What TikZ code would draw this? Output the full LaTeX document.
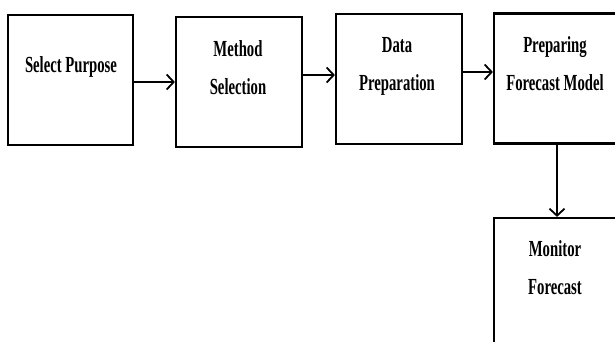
\documentclass[tikz,border=0pt]{standalone}
\usepackage{fontspec}
\setmainfont[FakeStretch=0.64]{Liberation Serif}
\usetikzlibrary{arrows.meta}
\begin{document}
\begin{tikzpicture}[x=1pt,y=-1pt,
  stagebox/.style={draw=black,line width=2.2pt,minimum width=#1,minimum height=130pt,inner sep=0pt},
  stagebox/.default=125pt,
  caption/.style={align=center,inner sep=0pt,font=\fontsize{23}{38}\selectfont\bfseries},
  flow/.style={line width=2.4pt,-{Straight Barb[length=7pt,width=15pt,line width=1.8pt]}}]
\useasboundingbox (0,0) rectangle (615,342);
\clip (0,0) rectangle (615,342);
% process boxes
\node[stagebox=125pt] (b1) at (70.5,80) {};
\node[stagebox=126pt] (b2) at (239,82) {};
\node[stagebox=126pt] (b3) at (399,79) {};
\node[stagebox=122pt] (b4) at (555,78.5) {};
\node[stagebox=122pt] (b5) at (555,283) {};
% box captions
\node[caption] (t1) at (71,67) {Select Purpose};
\node[caption] (t2) at (238,68) {Method\\Selection};
\node[caption] (t3) at (397,66) {Data\\Preparation};
\node[caption] (t4) at (555,64) {Preparing\\Forecast Model};
\node[caption] (t5) at (555,268) {Monitor\\Forecast};
% connectors
\draw[flow] ([yshift=-2pt]b1.east) -- (b2.west |- 0,82);
\draw[flow] ([yshift=7pt]b2.east) -- (b3.west |- 0,75);
\draw[flow] ([yshift=7pt]b3.east) -- (b4.west |- 0,72);
\draw[flow] ([xshift=2pt]b4.south) -- ([xshift=2pt]b5.north);
\end{tikzpicture}
\end{document}
